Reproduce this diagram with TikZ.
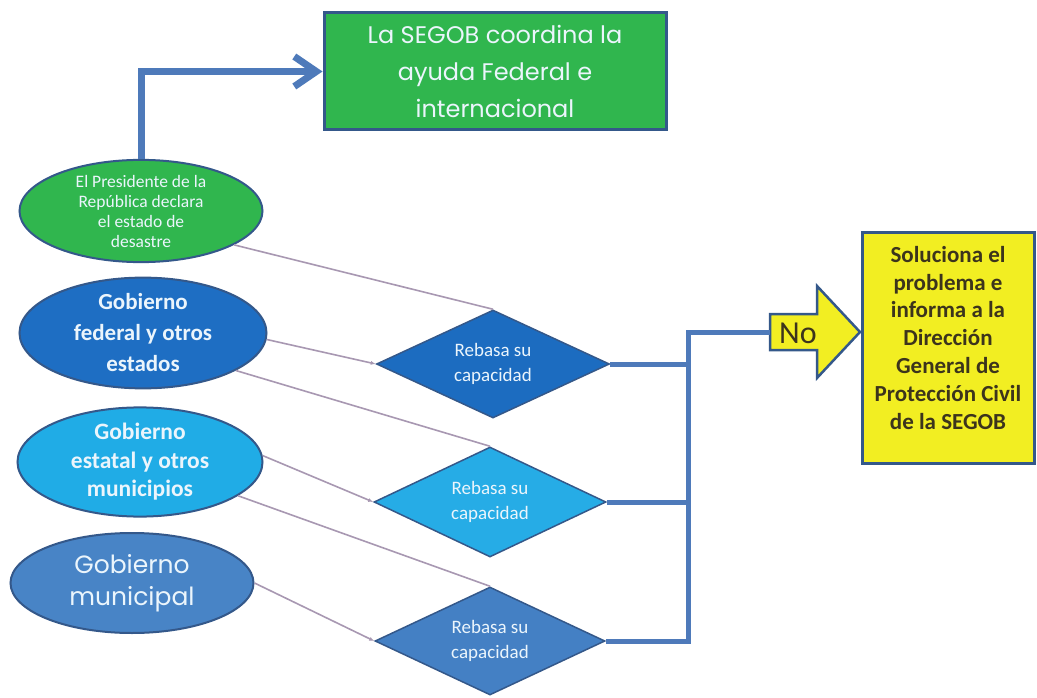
\documentclass[tikz,border=0pt]{standalone}
\usepackage{fontspec}
\setmainfont{Carlito}
\newfontfamily\geo{Poppins}
\usetikzlibrary{shapes.geometric,arrows.meta}
\definecolor{cgreen}{RGB}{48,182,78}
\definecolor{cfed}{RGB}{30,110,195}
\definecolor{cest}{RGB}{32,172,230}
\definecolor{cmun}{RGB}{72,132,198}
\definecolor{cdone}{RGB}{28,108,192}
\definecolor{cdtwo}{RGB}{38,172,230}
\definecolor{cdthree}{RGB}{68,128,196}
\definecolor{cborder}{RGB}{52,88,138}
\definecolor{cblue}{RGB}{78,122,186}
\definecolor{cgray}{RGB}{168,152,178}
\definecolor{cyellow}{RGB}{242,238,34}
\definecolor{ctext}{RGB}{60,52,28}
\definecolor{cwhite}{RGB}{235,245,252}
\begin{document}
\begin{tikzpicture}[x=1pt,y=-1pt,
  ell/.style={ellipse, draw=cborder, line width=2pt, inner sep=0pt, text=cwhite, align=center},
  dia/.style={diamond, aspect=2.15, draw=cborder, line width=1.5pt, inner sep=0pt, text=cwhite, align=center,
    font=\fontsize{19}{25}\selectfont},
  boxnode/.style={rectangle, draw=cborder, line width=3pt, inner sep=0pt, align=center},
  bline/.style={draw=cblue, line width=5pt, line join=miter},
  bthick/.style={draw=cblue, line width=7pt, line join=miter},
  gline/.style={draw=cgray, line width=1.6pt},
  gtip/.style={gline, -{Latex[length=5pt,width=4pt]}}
]
\useasboundingbox (0,0) rectangle (1037,698);
\fill[white] (0,0) rectangle (1037,698);

% boxes
\node[boxnode, fill=cgreen, text=cwhite, minimum width=342pt, minimum height=117pt,
  font=\geo\fontsize{24}{37}\selectfont] (segob) at (495,71.5)
  {La SEGOB coordina la\\ayuda Federal e\\internacional};
\node[boxnode, fill=cyellow, text=ctext, minimum width=172pt, minimum height=231pt,
  font=\bfseries\fontsize{23}{27.8}\selectfont] (sol) at (948,347.5)
  {Soluciona el\\problema e\\informa a la\\Dirección\\General de\\Protección Civil\\de la SEGOB\\[-8pt]};

% ellipses
\node[ell, fill=cgreen, minimum width=243pt, minimum height=97pt,
  font=\fontsize{17.5}{20}\selectfont] (pres) at (141,211)
  {El Presidente de la\\República declara\\el estado de\\desastre};
\node[ell, fill=cfed, minimum width=247pt, minimum height=100pt,
  font=\bfseries\fontsize{23}{31}\selectfont] (fed) at (143,333)
  {Gobierno\\federal y otros\\estados};
\node[ell, fill=cest, minimum width=245pt, minimum height=90pt,
  font=\bfseries\fontsize{23.5}{28.5}\selectfont] (est) at (140,462)
  {Gobierno\\estatal y otros\\municipios};
\node[ell, fill=cmun, minimum width=243pt, minimum height=100pt,
  font=\geo\fontsize{25}{32}\selectfont] (mun) at (132,583)
  {Gobierno\\municipal};

% diamonds
\node[dia, fill=cdone, minimum width=233pt, minimum height=108pt] (d1) at (493,364) {Rebasa su\\capacidad};
\node[dia, fill=cdtwo, minimum width=232pt, minimum height=110pt] (d2) at (490,502) {Rebasa su\\capacidad};
\node[dia, fill=cdthree, minimum width=230pt, minimum height=108pt] (d3) at (490,641) {Rebasa su\\capacidad};

% No block arrow
\filldraw[fill=cyellow, draw=cborder, line width=2.5pt, line join=miter]
  (770,314) -- (817,314) -- (817,286) -- (860,332) -- (817,378) -- (817,350) -- (770,350) -- cycle;
\node[text=ctext, font=\fontsize{32}{34}\selectfont] (no) at (798,333) {No};
\coordinate (noin) at (770,332);
\coordinate (j) at (688,332);

% blue connectors
\draw[bthick, -{Straight Barb[length=22pt,width=30pt]}] (pres.north) |- (segob.west);
\draw[bline] (d3.east) -| (j) -- (noin);
\draw[bline] (d1.east) -- (d1.east -| j);
\draw[bline] (d2.east) -- (d2.east -| j);

% gray connectors
\draw[gline] (pres.-20) -- (d1.north);
\draw[gtip] (fed.-3) -- (d1.west);
\draw[gline] (fed.-22) -- (d2.north);
\draw[gtip] (est.3) -- (d2.west);
\draw[gline] (est.-19) -- (d3.north);
\draw[gtip] (mun.east) -- (d3.west);
\end{tikzpicture}
\end{document}
